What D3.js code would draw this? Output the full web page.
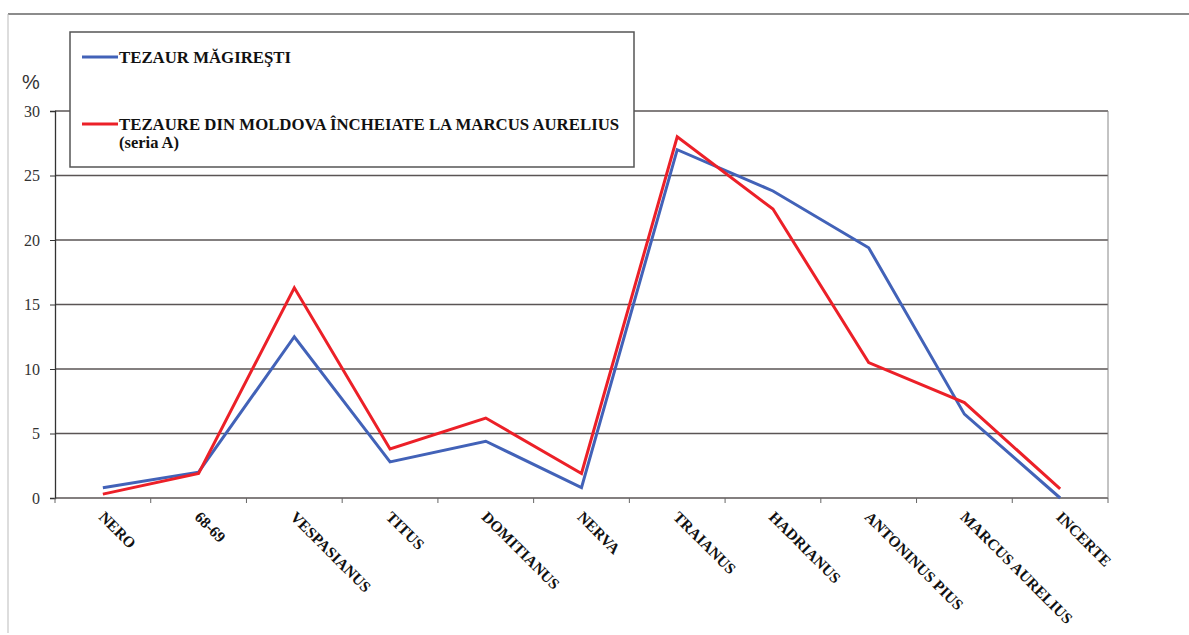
<!DOCTYPE html>
<html>
<head>
<meta charset="utf-8">
<script src="https://cdn.jsdelivr.net/npm/d3@7"></script>
<style>
  body { margin: 0; background: #fff; }
  svg { display: block; }
</style>
</head>
<body>
<script>
const categories = ["NERO", "68-69", "VESPASIANUS", "TITUS", "DOMITIANUS", "NERVA",
  "TRAIANUS", "HADRIANUS", "ANTONINUS PIUS", "MARCUS AURELIUS", "INCERTE"];
const magiresti = [0.8, 2.0, 12.5, 2.8, 4.4, 0.8, 27.0, 23.8, 19.4, 6.5, 0.0];
const moldova = [0.3, 1.9, 16.3, 3.8, 6.2, 1.9, 28.0, 22.4, 10.5, 7.4, 0.7];
const yTicks = [0, 5, 10, 15, 20, 25, 30];

const SERIF = "'Liberation Serif', 'Times New Roman', serif";
const W = 1189, H = 635;
const plot = { left: 55, right: 1108, top: 111, bottom: 498 };

const svg = d3.select("body").append("svg").attr("width", W).attr("height", H);

// outer frame (top + left)
svg.append("line").attr("x1", 8).attr("x2", W).attr("y1", 14).attr("y2", 14)
  .attr("stroke", "#666").attr("stroke-width", 1.5);
svg.append("line").attr("x1", 8).attr("x2", 8).attr("y1", 14).attr("y2", 633)
  .attr("stroke", "#bbb").attr("stroke-width", 1);

const x = d3.scaleBand().domain(categories).range([plot.left, plot.right]);
const y = d3.scaleLinear().domain([0, 30]).range([plot.bottom, plot.top]);

// gridlines
svg.append("g").selectAll("line").data(yTicks).enter().append("line")
  .attr("x1", plot.left).attr("x2", plot.right)
  .attr("y1", d => y(d)).attr("y2", d => y(d))
  .attr("stroke", "#5a5555").attr("stroke-width", 1.3);

// right border of plot
svg.append("line").attr("x1", plot.right).attr("x2", plot.right)
  .attr("y1", plot.top).attr("y2", plot.bottom)
  .attr("stroke", "#888").attr("stroke-width", 1);

// y axis
const yAxis = svg.append("g").attr("transform", `translate(${plot.left},0)`)
  .call(d3.axisLeft(y).tickValues(yTicks).tickSize(5).tickPadding(10));
yAxis.select(".domain").attr("stroke", "#333").attr("stroke-width", 1.3);
yAxis.selectAll(".tick line").attr("stroke", "#333");
yAxis.selectAll("text").style("font-family", SERIF)
  .style("font-size", "16px").attr("fill", "#333");

// x axis ticks at category boundaries
const bounds = d3.range(categories.length + 1).map(i => plot.left + i * x.bandwidth());
svg.append("g").selectAll("line").data(bounds).enter().append("line")
  .attr("x1", d => d).attr("x2", d => d)
  .attr("y1", plot.bottom).attr("y2", plot.bottom + 5)
  .attr("stroke", "#666").attr("stroke-width", 1);

// x labels
svg.append("g").selectAll("text").data(categories).enter().append("text")
  .attr("transform", d => `translate(${x(d) + x.bandwidth() / 2 + 3},${plot.bottom + 12}) rotate(45)`)
  .style("font-family", SERIF).style("font-weight", "bold").style("font-size", "15.5px")
  .attr("fill", "#111")
  .attr("dominant-baseline", "hanging")
  .text(d => d);

// % label
svg.append("text").attr("x", 22).attr("y", 89)
  .style("font-family", "'Liberation Sans', Arial, sans-serif")
  .style("font-size", "20px").attr("fill", "#333").text("%");

// lines
const line = d3.line().x((d, i) => x(categories[i]) + x.bandwidth() / 2).y(d => y(d));
svg.append("path").datum(magiresti).attr("d", line).attr("fill", "none")
  .attr("stroke", "#4262b8").attr("stroke-width", 3).attr("stroke-linejoin", "miter");
svg.append("path").datum(moldova).attr("d", line).attr("fill", "none")
  .attr("stroke", "#ec2028").attr("stroke-width", 3).attr("stroke-linejoin", "miter");

// legend
const lg = svg.append("g");
lg.append("rect").attr("x", 70).attr("y", 32).attr("width", 564).attr("height", 135)
  .attr("fill", "#fff").attr("stroke", "#555").attr("stroke-width", 1.5);
const legendItems = [
  { color: "#4262b8", y: 57, lines: ["TEZAUR MĂGIREŞTI"] },
  { color: "#ec2028", y: 124, lines: ["TEZAURE DIN MOLDOVA ÎNCHEIATE LA MARCUS AURELIUS", "(seria A)"] }
];
legendItems.forEach(it => {
  lg.append("line").attr("x1", 82).attr("x2", 118).attr("y1", it.y).attr("y2", it.y)
    .attr("stroke", it.color).attr("stroke-width", 3);
  it.lines.forEach((t, i) => {
    lg.append("text").attr("x", 119).attr("y", it.y + 6 + i * 18)
      .style("font-family", SERIF).style("font-weight", "bold")
      .style("font-size", i === 1 ? "16.5px" : "16.8px").attr("fill", "#111").text(t);
  });
});
</script>
</body>
</html>
